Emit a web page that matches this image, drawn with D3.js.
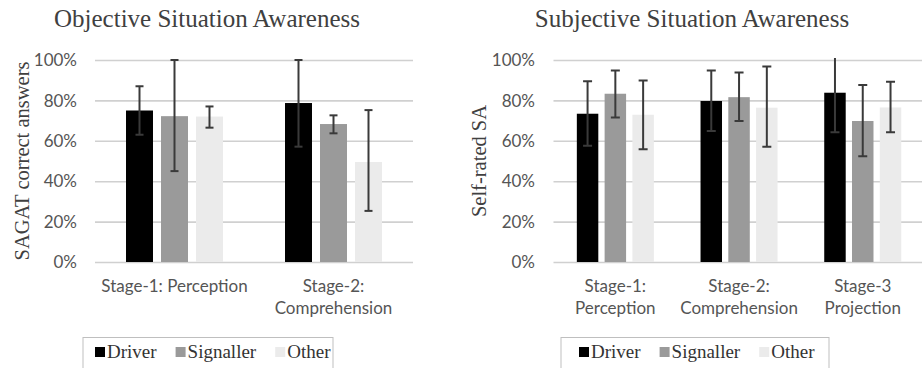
<!DOCTYPE html>
<html>
<head>
<meta charset="utf-8">
<script src="https://cdn.jsdelivr.net/npm/d3@7"></script>
<style>
  html, body { margin: 0; padding: 0; background: #fff; }
  svg { display: block; }
</style>
</head>
<body>
<svg id="chart" width="922" height="368"></svg>
<script>
// ---- data ----
const series = ["Driver", "Signaller", "Other"];
const yTicks = [0, 0.2, 0.4, 0.6, 0.8, 1.0];

// Objective SA (SAGAT)
const objCategories = [["Stage-1: Perception"], ["Stage-2:", "Comprehension"]];
const objDriver    = [0.75, 0.787];
const objSignaller = [0.722, 0.683];
const objOther     = [0.72, 0.495];
const objLowDriver    = [0.63, 0.571];
const objHighDriver   = [0.87, 1.0];
const objLowSignaller = [0.45, 0.637];
const objHighSignaller= [1.0, 0.726];
const objLowOther     = [0.665, 0.253];
const objHighOther    = [0.77, 0.752];

// Subjective SA (self-rated)
const subjCategories = [["Stage-1:", "Perception"], ["Stage-2:", "Comprehension"], ["Stage-3", "Projection"]];
const subjDriver    = [0.734, 0.797, 0.838];
const subjSignaller = [0.833, 0.816, 0.698];
const subjOther     = [0.729, 0.764, 0.765];
const subjLowDriver    = [0.576, 0.648, 0.642];
const subjHighDriver   = [0.895, 0.948, 1.04];
const subjLowSignaller = [0.715, 0.698, 0.523];
const subjHighSignaller= [0.948, 0.938, 0.876];
const subjLowOther     = [0.558, 0.571, 0.642];
const subjHighOther    = [0.899, 0.968, 0.892];

const colors = { Driver: "#000000", Signaller: "#9a9a9a", Other: "#ebebeb" };

function rows(cats, vals, lows, highs) {
  return cats.map((c, i) => ({
    key: c.join(" "), label: c,
    values: series.map((s, j) => ({ series: s, value: vals[j][i], low: lows[j][i], high: highs[j][i] }))
  }));
}

const objData = rows(objCategories,
  [objDriver, objSignaller, objOther],
  [objLowDriver, objLowSignaller, objLowOther],
  [objHighDriver, objHighSignaller, objHighOther]);
const subjData = rows(subjCategories,
  [subjDriver, subjSignaller, subjOther],
  [subjLowDriver, subjLowSignaller, subjLowOther],
  [subjHighDriver, subjHighSignaller, subjHighOther]);

const svg = d3.select("#chart");
const serif = "'Liberation Serif', 'Times New Roman', serif";
const sans = "Lato, 'Open Sans', sans-serif";

function panel(opt) {
  const g = svg.append("g");
  const y = d3.scaleLinear().domain([0, 1]).range([262, 60]);
  const x0 = d3.scaleBand().domain(opt.data.map(d => d.key)).range(opt.xRange).paddingInner(0).paddingOuter(0);
  const x1 = d3.scaleBand().domain(series).range([0, x0.bandwidth()])
    .paddingInner(opt.innerPad).paddingOuter(opt.outerPad);

  const clipId = "clip-" + opt.id;
  svg.append("defs").append("clipPath").attr("id", clipId)
    .append("rect").attr("x", opt.xRange[0]).attr("y", y(1) - 2)
    .attr("width", opt.xRange[1] - opt.xRange[0]).attr("height", y(0) - y(1) + 2);

  // title
  g.append("text").attr("x", opt.titleX).attr("y", 27)
    .attr("text-anchor", "middle").attr("font-family", serif).attr("font-size", 25)
    .attr("fill", "#404040").text(opt.title);

  // gridlines
  const grid = d3.axisLeft(y).tickValues(yTicks).tickSize(-(opt.gridRight - opt.xRange[0])).tickFormat("");
  const gg = g.append("g").attr("transform", `translate(${opt.xRange[0]},0)`).call(grid);
  gg.select(".domain").remove();
  gg.selectAll("line").attr("stroke", "#d0d0d0").attr("stroke-width", 1.6);

  // y tick labels
  const yl = d3.axisLeft(y).tickValues(yTicks).tickSize(0).tickPadding(0).tickFormat(d3.format(".0%"));
  const ya = g.append("g").attr("transform", `translate(${opt.tickX},0)`).call(yl);
  ya.select(".domain").remove();
  ya.selectAll("text").attr("font-family", sans).attr("font-size", 17).attr("fill", "#555").attr("dy", "0.34em");

  // y axis title
  g.append("text").attr("transform", `translate(${opt.yTitleX},161) rotate(-90)`)
    .attr("text-anchor", "middle").attr("font-family", serif).attr("font-size", 20.5)
    .attr("fill", "#404040").attr("dy", "0.35em").text(opt.yTitle);

  // bars
  const grp = g.selectAll(".grp").data(opt.data).join("g")
    .attr("transform", d => `translate(${x0(d.key)},0)`);
  grp.selectAll("rect").data(d => d.values).join("rect")
    .attr("x", d => x1(d.series)).attr("width", x1.bandwidth())
    .attr("y", d => y(d.value)).attr("height", d => y(0) - y(d.value))
    .attr("fill", d => colors[d.series]);

  // error bars
  const eb = g.append("g").attr("clip-path", `url(#${clipId})`);
  opt.data.forEach(d => {
    d.values.forEach(v => {
      const cx = x0(d.key) + x1(v.series) + x1.bandwidth() / 2;
      const e = eb.append("g").attr("stroke", "#3a3a3a").attr("stroke-width", 2);
      e.append("line").attr("x1", cx).attr("x2", cx).attr("y1", y(v.low)).attr("y2", y(v.high));
      e.append("line").attr("x1", cx - opt.cap).attr("x2", cx + opt.cap).attr("y1", y(v.low)).attr("y2", y(v.low));
      if (v.high <= 1) e.append("line").attr("x1", cx - opt.cap).attr("x2", cx + opt.cap).attr("y1", y(v.high)).attr("y2", y(v.high));
    });
  });

  // category labels
  opt.data.forEach(d => {
    const t = g.append("text").attr("text-anchor", "middle").attr("font-family", sans)
      .attr("font-size", 17).attr("fill", "#555");
    d.label.forEach((line, i) => {
      t.append("tspan").attr("x", x0(d.key) + x0.bandwidth() / 2).attr("y", 292 + i * 22).text(line);
    });
  });

  // legend
  const lg = g.append("g");
  let cx = opt.legendX + opt.legendPad;
  series.forEach((s, i) => {
    lg.append("rect").attr("x", cx).attr("y", 347).attr("width", 10).attr("height", 10).attr("fill", colors[s]);
    const t = lg.append("text").attr("x", cx + 12).attr("y", 358).attr("font-family", serif)
      .attr("font-size", 19).attr("fill", "#333").text(s);
    cx += 12 + t.node().getComputedTextLength() + 19;
  });
  lg.insert("rect", ":first-child").attr("x", opt.legendX).attr("y", 337.5)
    .attr("width", opt.legendW).attr("height", 40).attr("fill", "none")
    .attr("stroke", "#bfbfbf").attr("stroke-width", 1);
}

panel({ id: "obj", data: objData, xRange: [95, 413], gridRight: 413, innerPad: 0.229, outerPad: 0.886,
  title: "Objective Situation Awareness", titleX: 207, tickX: 77, yTitle: "SAGAT correct answers", yTitleX: 22,
  cap: 4, legendX: 83, legendW: 250, legendPad: 12 });
panel({ id: "subj", data: subjData, xRange: [553.5, 924.6], gridRight: 924.6, innerPad: 0.227, outerPad: 0.84,
  title: "Subjective Situation Awareness", titleX: 692, tickX: 535, yTitle: "Self-rated SA", yTitleX: 479,
  cap: 4.5, legendX: 561, legendW: 268, legendPad: 18 });
</script>
</body>
</html>
